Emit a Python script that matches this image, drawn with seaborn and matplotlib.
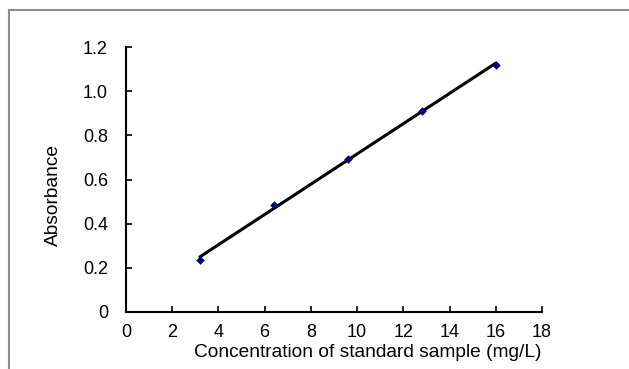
import numpy as np
import pandas as pd
import seaborn as sns
import matplotlib
matplotlib.use("Agg")
import matplotlib.pyplot as plt
from matplotlib.lines import Line2D

concentration = [3.2, 6.4, 9.6, 12.8, 16.0]
absorbance = [0.235, 0.485, 0.693, 0.91, 1.119]
x_ticks = [0, 2, 4, 6, 8, 10, 12, 14, 16, 18]
y_ticks = [0, 0.2, 0.4, 0.6, 0.8, 1.0, 1.2]
y_tick_labels = ["0", "0.2", "0.4", "0.6", "0.8", "1.0", "1.2"]

sns.set_theme(style="white")
plt.rcParams['font.family'] = ['Liberation Sans', 'DejaVu Sans']

df = pd.DataFrame({"Concentration": concentration, "Absorbance": absorbance})
slope, intercept = np.polyfit(concentration, absorbance, 1)
fit_x = [min(concentration), max(concentration)]
fit_df = pd.DataFrame({"x": fit_x, "y": [slope * v + intercept for v in fit_x]})

fig = plt.figure(figsize=(6.29, 3.69), dpi=100)
ax = fig.add_axes([0.2003, 0.1545, 0.6614, 0.7181])

sns.lineplot(data=fit_df, x="x", y="y", ax=ax, color="black", linewidth=2.2, zorder=2)
sns.scatterplot(data=df, x="Concentration", y="Absorbance", ax=ax, marker="D",
                color="#000080", s=16, edgecolor="#000080", zorder=3)

ax.set_xlim(0, 18)
ax.set_ylim(0, 1.2)
ax.set_xticks(x_ticks)
ax.set_yticks(y_ticks)
ax.set_yticklabels(y_tick_labels)
ax.tick_params(direction="in", length=4, width=1.2, colors="black", labelsize=13,
               bottom=True, left=True)
ax.tick_params(axis="y", pad=13)
ax.tick_params(axis="x", pad=9)
for s in ["top", "right"]:
    ax.spines[s].set_visible(False)
for s in ["left", "bottom"]:
    ax.spines[s].set_color("black")
    ax.spines[s].set_linewidth(1.5)
ax.set_xlabel("Concentration of standard sample (mg/L)", fontsize=13.8, color="black")
ax.set_ylabel("Absorbance", fontsize=13.8, color="black")
ax.xaxis.set_label_coords(0.582, -0.12)
ax.yaxis.set_label_coords(-0.155, 0.44)

# figure frame (gray)
fig.add_artist(Line2D([9/629, 1], [1-10/369, 1-10/369], color="#8c8c8c", linewidth=1.5))
fig.add_artist(Line2D([9/629, 9/629], [0, 1-10/369], color="#8c8c8c", linewidth=1.5))

fig.savefig("out.png", dpi=100)
